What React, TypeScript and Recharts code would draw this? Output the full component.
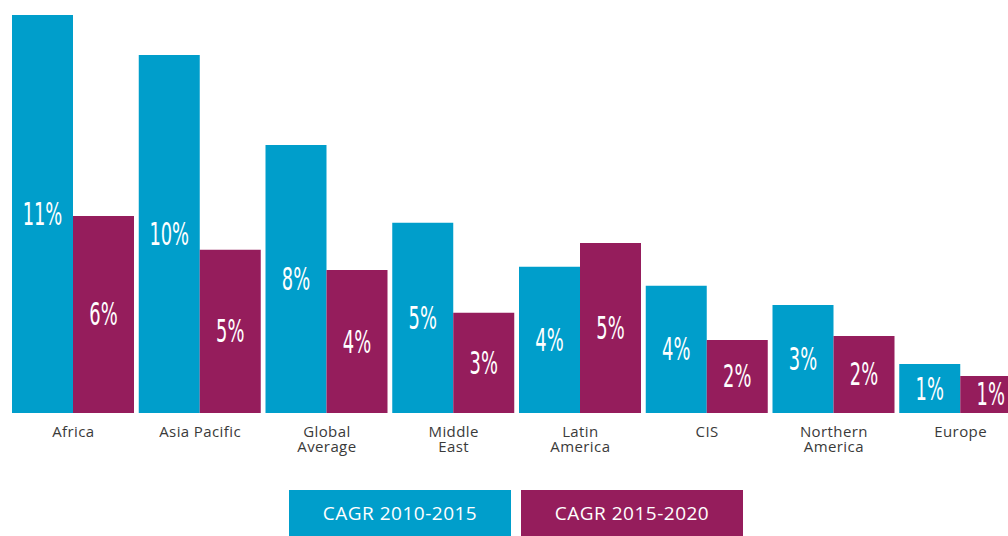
import { Bar, BarChart, LabelList, XAxis, YAxis } from 'recharts';

const regions = ['Africa', 'Asia Pacific', 'Global\nAverage', 'Middle\nEast', 'Latin\nAmerica', 'CIS', 'Northern\nAmerica', 'Europe'];
const cagr2010 = [11.05, 9.94, 7.44, 5.28, 4.06, 3.53, 3.0, 1.36];
const cagr2015 = [5.47, 4.53, 3.97, 2.78, 4.72, 2.03, 2.14, 1.03];
const labels2010 = ['11%', '10%', '8%', '5%', '4%', '4%', '3%', '1%'];
const labels2015 = ['6%', '5%', '4%', '3%', '5%', '2%', '2%', '1%'];

const BLUE = '#009ecb';
const PURPLE = '#951d5c';

const data = regions.map((region, i) => ({
  region,
  a: cagr2010[i],
  b: cagr2015[i],
  la: labels2010[i],
  lb: labels2015[i],
}));

function RegionTick({ x, y, payload }: { x?: number; y?: number; payload?: { value: string } }) {
  const lines = String(payload?.value ?? '').split('\n');
  return (
    <g>
      {lines.map((line, i) => (
        <text
          key={line}
          x={x}
          y={(y ?? 0) + 16 + i * 15}
          textAnchor="middle"
          fill="#3a3a3a"
          fontSize={15}
          letterSpacing={0.4}
          fontFamily="'Open Sans', sans-serif"
        >
          {line}
        </text>
      ))}
    </g>
  );
}

function PctLabel(props: any) {
  const { x, y, width, height, value } = props;
  const cx = x + width / 2;
  const cy = y + height / 2;
  return (
    <text
      transform={`translate(${cx},${cy + 11}) scale(0.62,1)`}
      textAnchor="middle"
      fill="#fff"
      fontSize={32}
      fontFamily="'DejaVu Sans Condensed', 'Liberation Sans Narrow', sans-serif"
    >
      {value}
    </text>
  );
}

function LegendBox({ color, text }: { color: string; text: string }) {
  return (
    <div
      style={{
        width: 222,
        height: 46,
        background: color,
        color: '#fff',
        fontFamily: "'Open Sans', sans-serif",
        fontSize: 19,
        letterSpacing: 0.5,
        display: 'flex',
        alignItems: 'center',
        justifyContent: 'center',
      }}
    >
      {text}
    </div>
  );
}

export default function App() {
  return (
    <div style={{ position: 'absolute', left: 0, top: 0, width: 1008, height: 536, overflow: 'hidden', background: '#fff' }}>
      <BarChart
        width={1024}
        height={536}
        data={data}
        margin={{ top: 15, right: 0, bottom: 83, left: 10 }}
        barSize={61}
        barGap={0}
      >
        <XAxis dataKey="region" axisLine={false} tickLine={false} interval={0} tick={<RegionTick />} height={40} />
        <YAxis hide domain={[0, 11.05]} />
        <Bar dataKey="a" fill={BLUE} isAnimationActive={false}>
          <LabelList dataKey="la" content={<PctLabel />} />
        </Bar>
        <Bar dataKey="b" fill={PURPLE} isAnimationActive={false}>
          <LabelList dataKey="lb" content={<PctLabel />} />
        </Bar>
      </BarChart>
      <div style={{ position: 'absolute', left: 289, top: 490, display: 'flex', gap: 10 }}>
        <LegendBox color={BLUE} text="CAGR 2010-2015" />
        <LegendBox color={PURPLE} text="CAGR 2015-2020" />
      </div>
    </div>
  );
}
